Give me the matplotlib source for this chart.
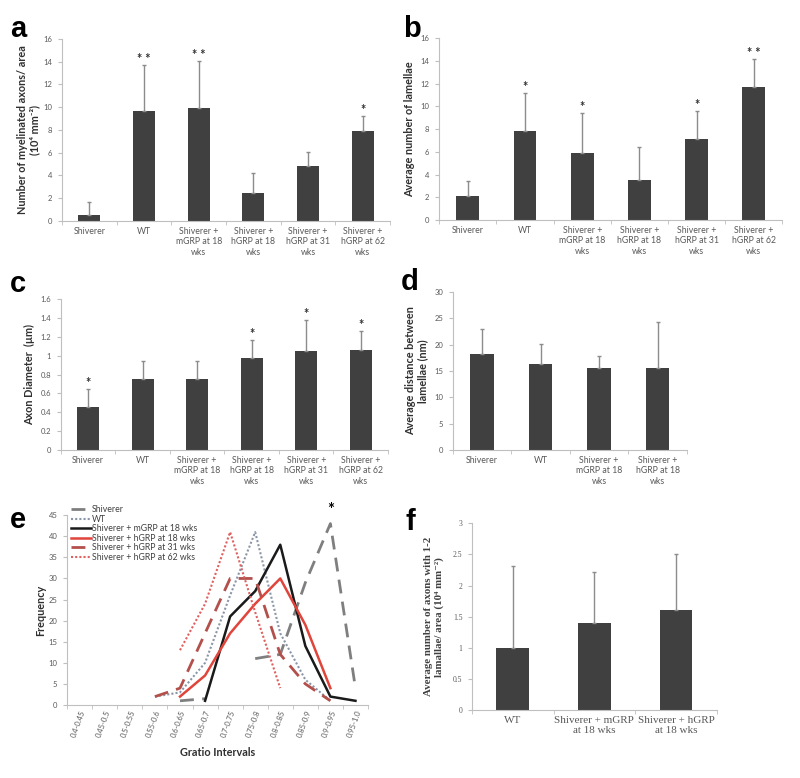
import numpy as np
import matplotlib
matplotlib.use("Agg")
import matplotlib.pyplot as plt

plt.rcParams['font.family'] = ['Lato', 'DejaVu Sans']

# panel a-d categories
groups6 = ["Shiverer", "WT", "Shiverer +\nmGRP at 18\nwks", "Shiverer +\nhGRP at 18\nwks",
           "Shiverer +\nhGRP at 31\nwks", "Shiverer +\nhGRP at 62\nwks"]
groups4 = groups6[:4]
groups_f = ["WT", "Shiverer + mGRP\nat 18 wks", "Shiverer + hGRP\nat 18 wks"]

# a: myelinated axons / area
a_mean = [0.5, 9.65, 9.95, 2.45, 4.85, 7.9]
a_sd = [1.17, 4.05, 4.15, 1.8, 1.25, 1.3]
a_sig = ["", "**", "**", "", "", "*"]

# b: number of lamellae
b_mean = [2.14, 7.84, 5.87, 3.5, 7.16, 11.74]
b_sd = [1.29, 3.36, 3.58, 2.96, 2.44, 2.46]
b_sig = ["", "*", "*", "", "*", "**"]

# c: axon diameter
c_mean = [0.46, 0.75, 0.757, 0.977, 1.05, 1.06]
c_sd = [0.19, 0.195, 0.19, 0.19, 0.33, 0.205]
c_sig = ["*", "", "", "*", "*", "*"]

# d: distance between lamellae
d_mean = [18.2, 16.3, 15.5, 15.6]
d_sd = [4.8, 3.8, 2.3, 8.7]

# f: axons with 1-2 lamellae
f_mean = [1.0, 1.39, 1.6]
f_sd = [1.32, 0.83, 0.9]

# e: g-ratio histogram
gratio = ["0.4-0.45", "0.45-0.5", "0.5-0.55", "0.55-0.6", "0.6-0.65", "0.65-0.7",
          "0.7-0.75", "0.75-0.8", "0.8-0.85", "0.85-0.9", "0.9-0.95", "0.95-1.0"]
nan = np.nan
e_shiverer = [nan, nan, nan, nan, 1, 1.5, nan, 11, 12, 29, 43, 4]
e_wt = [nan, nan, nan, 2, 3, 10, 26, 41, 17, 6, 1, nan]
e_m18 = [nan, nan, nan, nan, nan, 1, 21, 27, 38, 14, 2, 1]
e_h18 = [nan, nan, nan, nan, 2, 7, 17, 24, 30, 19, 4, nan]
e_h31 = [nan, nan, nan, 2, 4, 17, 30, 30, 12, 5, 1, nan]
e_h62 = [nan, nan, nan, nan, 13, 24, 41, 22, 4, nan, nan, nan]

BAR = "#404040"
AXC = "#bfbfbf"
TXT = "#595959"


def style_axes(ax, n):
    for s in ["top", "right"]:
        ax.spines[s].set_visible(False)
    ax.spines["left"].set_color(AXC)
    ax.spines["bottom"].set_color(AXC)
    ax.set_xlim(-0.5, n - 0.5)
    ax.set_xticks(np.arange(-0.5, n), minor=True)
    ax.tick_params(axis="x", which="major", length=0, pad=4)
    ax.tick_params(axis="x", which="minor", length=3, color=AXC)
    ax.tick_params(axis="y", length=3, color=AXC, labelsize=5.5, labelcolor=TXT, pad=4)


def bar_panel(ax, labels, mean, sd, sig, ymax, step, ylabel, fmt=None, pad=4):
    x = np.arange(len(labels))
    ax.bar(x, mean, width=0.4, color=BAR)
    ax.errorbar(x, mean, yerr=[np.zeros(len(sd)), sd], fmt="none", ecolor="#8c8c8c",
                elinewidth=1, capsize=1.5, capthick=1)
    style_axes(ax, len(labels))
    ax.set_ylim(0, ymax)
    ticks = np.arange(0, ymax + step / 2, step)
    ax.set_yticks(ticks)
    if fmt:
        ax.set_yticklabels([fmt(t) for t in ticks])
    ax.set_xticks(x)
    ax.set_xticklabels(labels, fontsize=6.3, color=TXT, linespacing=1.25)
    ax.set_ylabel(ylabel, fontsize=7.8, fontweight="bold", color="#303030", labelpad=pad)
    if sig:
        for xi, m, s, st in zip(x, mean, sd, sig):
            if st:
                ax.annotate(st.replace("**", "* *"), (xi, m + s), xytext=(0, 0),
                            textcoords="offset points", ha="center", va="bottom",
                            fontsize=9, fontweight="bold", color="#303030")


fig = plt.figure(figsize=(8, 7.78), dpi=100)

ax_a = fig.add_axes([0.0775, 0.716, 0.41, 0.234])
bar_panel(ax_a, groups6, a_mean, a_sd, a_sig, 16, 2,
          "Number of myelinated axons/ area\n(10\u2074 mm\u207b\u00b2)", pad=2)

ax_b = fig.add_axes([0.549, 0.717, 0.429, 0.234])
bar_panel(ax_b, groups6, b_mean, b_sd, b_sig, 16, 2, "Average number of lamellae")

ax_c = fig.add_axes([0.076, 0.4216, 0.409, 0.194])
bar_panel(ax_c, groups6, c_mean, c_sd, c_sig, 1.6, 0.2, "Axon Diameter  (\u00b5m)",
          fmt=lambda t: f"{t:g}")

ax_d = fig.add_axes([0.566, 0.4216, 0.2925, 0.203])
bar_panel(ax_d, groups4, d_mean, d_sd, None, 30, 5, "Average distance between\nlamellae (nm)")

# f uses a serif font
ax_f = fig.add_axes([0.59, 0.0874, 0.306, 0.240])
xf = np.arange(len(groups_f))
ax_f.bar(xf, f_mean, width=0.4, color=BAR)
ax_f.errorbar(xf, f_mean, yerr=[np.zeros(3), f_sd], fmt="none", ecolor="#8c8c8c",
              elinewidth=1, capsize=1.5, capthick=1)
style_axes(ax_f, 3)
ax_f.set_ylim(0, 3)
ax_f.set_yticks(np.arange(0, 3.01, 0.5))
ax_f.set_yticklabels(["0", "0.5", "1", "1.5", "2", "2.5", "3"], family="Liberation Serif")
ax_f.set_xticks(xf)
ax_f.set_xticklabels(groups_f, fontsize=8, color=TXT, family="Liberation Serif")
ax_f.set_ylabel("Average number of axons with 1-2\nlamallae/ area (10\u2074 mm\u207b\u00b2)",
                fontsize=7.8, fontweight="bold", color="#404040",
                family=["Liberation Serif", "DejaVu Serif"], labelpad=6)

# e: line plot
ax_e = fig.add_axes([0.084, 0.0938, 0.376, 0.244])
xe = np.arange(len(gratio))
ax_e.plot(xe, e_shiverer, color="#7f7f7f", lw=2, ls=(0, (5, 3)), label="Shiverer")
ax_e.plot(xe, e_wt, color="#8a96a8", lw=1.5, ls=(0, (1, 1)), label="WT")
ax_e.plot(xe, e_m18, color="#1a1a1a", lw=1.8, label="Shiverer + mGRP at 18 wks")
ax_e.plot(xe, e_h18, color="#e0443a", lw=1.8, label="Shiverer + hGRP at 18 wks")
ax_e.plot(xe, e_h31, color="#b3504c", lw=2, ls=(0, (5, 3)), label="Shiverer + hGRP at 31 wks")
ax_e.plot(xe, e_h62, color="#e06060", lw=1.5, ls=(0, (1, 1)), label="Shiverer + hGRP at 62 wks")
style_axes(ax_e, len(gratio))
ax_e.set_ylim(0, 45)
ax_e.set_yticks(np.arange(0, 46, 5))
ax_e.set_xticks(xe)
ax_e.set_xticklabels(gratio, rotation=70, ha="right", va="top", rotation_mode="anchor",
                     fontsize=5.5, color=TXT)
ax_e.tick_params(axis="x", which="major", pad=3)
ax_e.set_ylabel("Frequency", fontsize=7.8, fontweight="bold", color="#303030", labelpad=2)
ax_e.set_xlabel("Gratio Intervals", fontsize=7.8, fontweight="bold", color="#303030", labelpad=6)
ax_e.annotate("*", (10, 43), xytext=(0, 4), textcoords="offset points", ha="center",
              va="bottom", fontsize=12, fontweight="bold", annotation_clip=False)
ax_e.legend(loc="upper left", bbox_to_anchor=(0.0, 1.07), frameon=False, fontsize=6.3,
            labelspacing=0.05, handlelength=2.3, handletextpad=0.1, borderaxespad=0,
            labelcolor="#404040")

# panel letters
for letter, x, y in [("a", 10, 37), ("b", 403, 37), ("c", 10, 292), ("d", 401, 290),
                     ("e", 10, 528), ("f", 405, 530)]:
    fig.text(x / 800, 1 - y / 778, letter, fontsize=21, fontweight="bold",
             family=["Liberation Sans", "DejaVu Sans"], ha="left", va="baseline")

fig.savefig("out.png", dpi=100)
